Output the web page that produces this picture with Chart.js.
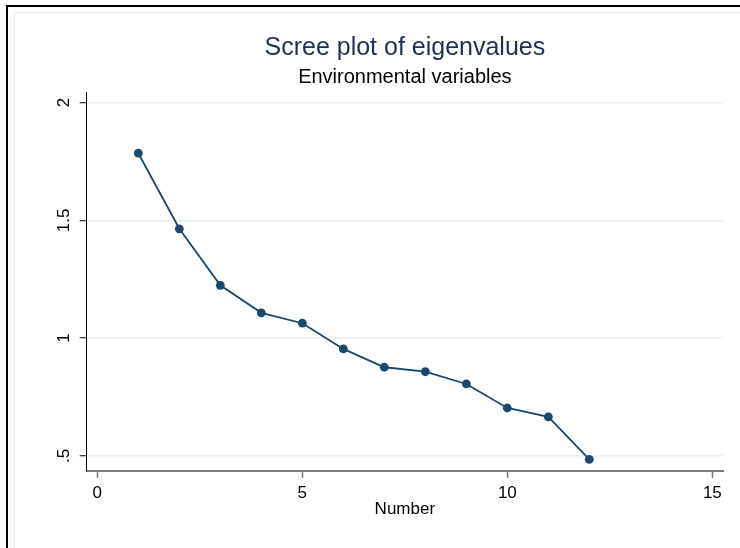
<!DOCTYPE html>
<html>
<head>
<meta charset="utf-8">
<title>Scree plot of eigenvalues</title>
<script src="https://cdn.jsdelivr.net/npm/chart.js@4.4.1/dist/chart.umd.min.js"></script>
<style>
  html, body { margin: 0; padding: 0; background: #fff; }
  #wrap { position: relative; width: 740px; height: 548px; overflow: hidden; }
  #frame { position: absolute; left: 6px; top: 5px; width: 900px; height: 700px;
           border-top: 2px solid #000; border-left: 2px solid #000; }
  #inner { position: absolute; left: 14px; top: 12px; width: 900px; height: 700px;
           border-top: 1px solid #e6eeef; border-left: 1px solid #e6eeef; }
  #chart { position: absolute; left: 0; top: 0; }
</style>
</head>
<body>
<div id="wrap">
  <div id="frame"></div>
  <div id="inner"></div>
  <canvas id="chart" width="740" height="548"></canvas>
</div>
<script>
const numbers = [1, 2, 3, 4, 5, 6, 7, 8, 9, 10, 11, 12];
const eigenvalues = [1.785, 1.464, 1.224, 1.107, 1.063, 0.954, 0.876, 0.857, 0.805, 0.703, 0.665, 0.485];
const xTicks = [0, 5, 10, 15];
const yTicks = [0.5, 1, 1.5, 2];
const yTickLabels = [".5", "1", "1.5", "2"];

const navy = "#1a476f";
const fontFamily = "'Liberation Sans', Arial, sans-serif";

const points = numbers.map((n, i) => ({ x: n, y: eigenvalues[i] }));

const chart = new Chart(document.getElementById("chart"), {
  type: "scatter",
  data: {
    datasets: [
      {
        data: points,
        showLine: true,
        borderColor: navy,
        borderWidth: 1.8,
        backgroundColor: navy,
        pointRadius: 4.4,
        pointBorderWidth: 0,
        pointBackgroundColor: navy,
      },
    ],
  },
  options: {
    responsive: false,
    animation: false,
    layout: { padding: { top: 0, right: 17, bottom: 0, left: 0 } },
    plugins: {
      legend: { display: false },
      tooltip: { enabled: false },
      title: {
        display: true,
        fullSize: false,
        text: "Scree plot of eigenvalues",
        color: "#1f2f56",
        font: { family: fontFamily, size: 25, weight: "normal", lineHeight: 1.2 },
        padding: { top: 33, bottom: 0 },
      },
      subtitle: {
        display: true,
        fullSize: false,
        text: "Environmental variables",
        color: "#000",
        font: { family: fontFamily, size: 20, weight: "normal", lineHeight: 1.2 },
        padding: { top: 2, bottom: 3 },
      },
    },
    scales: {
      x: {
        type: "linear",
        min: -0.259,
        max: 15.26,
        afterBuildTicks: (scale) => {
          scale.ticks = xTicks.map((v) => ({ value: v }));
        },
        afterFit: (scale) => {
          scale.height = 77;
        },
        ticks: {
          color: "#000",
          font: { family: fontFamily, size: 17 },
          padding: 5,
          maxRotation: 0,
          callback: (v) => String(v),
        },
        grid: {
          drawOnChartArea: false,
          drawTicks: true,
          tickLength: 7,
          tickColor: "#7a7a7a",
          tickWidth: 1.5,
        },
        border: { color: "#7a7a7a", width: 2 },
        title: {
          display: true,
          text: "Number",
          color: "#000",
          font: { family: fontFamily, size: 17, lineHeight: 1.2 },
          padding: { top: 0, bottom: 28 },
        },
      },
      y: {
        type: "linear",
        min: 0.4354,
        max: 2.045,
        afterBuildTicks: (scale) => {
          scale.ticks = yTicks.map((v) => ({ value: v }));
        },
        afterFit: (scale) => {
          scale.width = 86.7;
        },
        ticks: {
          color: "#000",
          font: { family: fontFamily, size: 17 },
          minRotation: 90,
          maxRotation: 90,
          crossAlign: "center",
          padding: 4,
          callback: (v) => yTickLabels[yTicks.indexOf(v)],
        },
        grid: {
          color: "#e8f0f1",
          lineWidth: 1.5,
          drawTicks: true,
          tickLength: 7,
          tickColor: "#000",
          tickWidth: 1,
        },
        border: { color: "#000", width: 1 },
      },
    },
  },
});
</script>
</body>
</html>
